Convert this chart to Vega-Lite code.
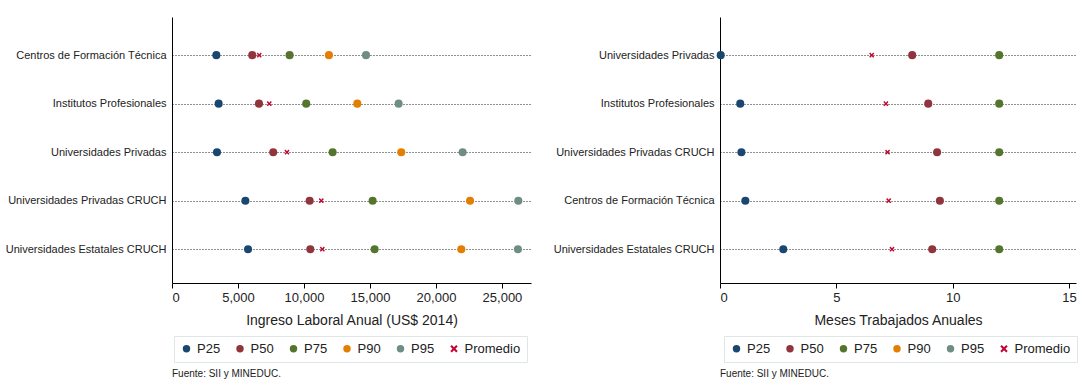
{
  "$schema": "https://vega.github.io/schema/vega-lite/v6.json",
  "background": "white",
  "padding": {"left": 5, "top": 17, "right": 0, "bottom": 0},
  "spacing": 22,
  "config": {
    "font": "Liberation Sans",
    "view": {"stroke": null},
    "axis": {"labelFont": "Liberation Sans", "titleFont": "Liberation Sans", "labelColor": "#222", "titleColor": "#222", "domainColor": "#000", "tickColor": "#000", "titleFontWeight": "normal"},
    "legend": {"labelFont": "Liberation Sans", "labelColor": "#222", "labelFontSize": 13, "direction": "horizontal", "orient": "none", "strokeColor": "#dfe6e6", "padding": 6, "symbolSize": 55, "labelOffset": 4, "columnPadding": 12.5, "title": null}
  },
  "datasets": {
    "ingreso": [
      {"inst": "Centros de Formación Técnica", "stat": "P25", "value": 3360},
      {"inst": "Centros de Formación Técnica", "stat": "P50", "value": 6080},
      {"inst": "Centros de Formación Técnica", "stat": "P75", "value": 8910},
      {"inst": "Centros de Formación Técnica", "stat": "P90", "value": 11890},
      {"inst": "Centros de Formación Técnica", "stat": "P95", "value": 14700},
      {"inst": "Centros de Formación Técnica", "stat": "Promedio", "value": 6610},
      {"inst": "Institutos Profesionales", "stat": "P25", "value": 3535},
      {"inst": "Institutos Profesionales", "stat": "P50", "value": 6590},
      {"inst": "Institutos Profesionales", "stat": "P75", "value": 10170},
      {"inst": "Institutos Profesionales", "stat": "P90", "value": 14040},
      {"inst": "Institutos Profesionales", "stat": "P95", "value": 17170},
      {"inst": "Institutos Profesionales", "stat": "Promedio", "value": 7370},
      {"inst": "Universidades Privadas", "stat": "P25", "value": 3410},
      {"inst": "Universidades Privadas", "stat": "P50", "value": 7670},
      {"inst": "Universidades Privadas", "stat": "P75", "value": 12170},
      {"inst": "Universidades Privadas", "stat": "P90", "value": 17370},
      {"inst": "Universidades Privadas", "stat": "P95", "value": 22020},
      {"inst": "Universidades Privadas", "stat": "Promedio", "value": 8710},
      {"inst": "Universidades Privadas CRUCH", "stat": "P25", "value": 5560},
      {"inst": "Universidades Privadas CRUCH", "stat": "P50", "value": 10430},
      {"inst": "Universidades Privadas CRUCH", "stat": "P75", "value": 15200},
      {"inst": "Universidades Privadas CRUCH", "stat": "P90", "value": 22580},
      {"inst": "Universidades Privadas CRUCH", "stat": "P95", "value": 26240},
      {"inst": "Universidades Privadas CRUCH", "stat": "Promedio", "value": 11310},
      {"inst": "Universidades Estatales CRUCH", "stat": "P25", "value": 5760},
      {"inst": "Universidades Estatales CRUCH", "stat": "P50", "value": 10480},
      {"inst": "Universidades Estatales CRUCH", "stat": "P75", "value": 15350},
      {"inst": "Universidades Estatales CRUCH", "stat": "P90", "value": 21920},
      {"inst": "Universidades Estatales CRUCH", "stat": "P95", "value": 26210},
      {"inst": "Universidades Estatales CRUCH", "stat": "Promedio", "value": 11390}
    ],
    "meses": [
      {"inst": "Universidades Privadas", "stat": "P25", "value": 0.03},
      {"inst": "Universidades Privadas", "stat": "P50", "value": 8.26},
      {"inst": "Universidades Privadas", "stat": "P75", "value": 12},
      {"inst": "Universidades Privadas", "stat": "Promedio", "value": 6.52},
      {"inst": "Institutos Profesionales", "stat": "P25", "value": 0.87},
      {"inst": "Institutos Profesionales", "stat": "P50", "value": 8.95},
      {"inst": "Institutos Profesionales", "stat": "P75", "value": 12},
      {"inst": "Institutos Profesionales", "stat": "Promedio", "value": 7.13},
      {"inst": "Universidades Privadas CRUCH", "stat": "P25", "value": 0.92},
      {"inst": "Universidades Privadas CRUCH", "stat": "P50", "value": 9.33},
      {"inst": "Universidades Privadas CRUCH", "stat": "P75", "value": 12},
      {"inst": "Universidades Privadas CRUCH", "stat": "Promedio", "value": 7.2},
      {"inst": "Centros de Formación Técnica", "stat": "P25", "value": 1.09},
      {"inst": "Centros de Formación Técnica", "stat": "P50", "value": 9.45},
      {"inst": "Centros de Formación Técnica", "stat": "P75", "value": 12},
      {"inst": "Centros de Formación Técnica", "stat": "Promedio", "value": 7.25},
      {"inst": "Universidades Estatales CRUCH", "stat": "P25", "value": 2.72},
      {"inst": "Universidades Estatales CRUCH", "stat": "P50", "value": 9.12},
      {"inst": "Universidades Estatales CRUCH", "stat": "P75", "value": 12},
      {"inst": "Universidades Estatales CRUCH", "stat": "Promedio", "value": 7.39}
    ]
  },
  "resolve": {"scale": {"color": "independent", "shape": "independent"}, "legend": {"color": "independent", "shape": "independent"}},
  "hconcat": [
    {
      "width": 359,
      "height": 266,
      "data": {"name": "ingreso"},
      "title": {"text": "Fuente: SII y MINEDUC.", "orient": "bottom", "anchor": "start", "frame": "group", "fontSize": 10, "fontWeight": "normal", "font": "Liberation Sans", "color": "#222", "offset": 6},
      "encoding": {
        "y": {"field": "inst", "type": "nominal", "sort": ["Centros de Formación Técnica", "Institutos Profesionales", "Universidades Privadas", "Universidades Privadas CRUCH", "Universidades Estatales CRUCH"], "scale": {"type": "point", "padding": 0.742, "align": 0.53}, "axis": {"title": null, "ticks": false, "labelPadding": 6, "labelFontSize": 11, "grid": true, "gridDash": [1, 2], "gridColor": "#222", "gridWidth": 1.1, "minExtent": 166, "maxExtent": 166}},
        "x": {"field": "value", "type": "quantitative", "scale": {"domain": [0, 27200], "nice": false}, "axis": {"values": [0, 5000, 10000, 15000, 20000, 25000], "format": ",d", "title": "Ingreso Laboral Anual (US$ 2014)", "titleFontSize": 14, "labelFontSize": 13, "grid": false, "tickSize": 5, "labelPadding": 3, "titlePadding": 9}},
        "color": {"field": "stat", "type": "nominal", "scale": {"domain": ["P25", "P50", "P75", "P90", "P95", "Promedio"], "range": ["#1a476f", "#90353b", "#55752f", "#e37e00", "#6e8e84", "#c10534"]}, "legend": {"legendX": 2, "legendY": 319}},
        "shape": {"field": "stat", "type": "nominal", "scale": {"domain": ["P25", "P50", "P75", "P90", "P95", "Promedio"], "range": ["circle", "circle", "circle", "circle", "circle", "M-1,-0.6L-0.6,-1L0,-0.4L0.6,-1L1,-0.6L0.4,0L1,0.6L0.6,1L0,0.4L-0.6,1L-1,0.6L-0.4,0Z"]}, "legend": {"legendX": 2, "legendY": 319}}
      },
      "layer": [
        {"transform": [{"filter": "datum.stat !== 'Promedio'"}], "mark": {"type": "point", "filled": true, "size": 65, "opacity": 1}},
        {"transform": [{"filter": "datum.stat === 'Promedio'"}], "mark": {"type": "point", "filled": true, "size": 26, "opacity": 1}}
      ]
    },
    {
      "width": 356,
      "height": 266,
      "data": {"name": "meses"},
      "title": {"text": "Fuente: SII y MINEDUC.", "orient": "bottom", "anchor": "start", "frame": "group", "fontSize": 10, "fontWeight": "normal", "font": "Liberation Sans", "color": "#222", "offset": 6},
      "encoding": {
        "y": {"field": "inst", "type": "nominal", "sort": ["Universidades Privadas", "Institutos Profesionales", "Universidades Privadas CRUCH", "Centros de Formación Técnica", "Universidades Estatales CRUCH"], "scale": {"type": "point", "padding": 0.742, "align": 0.53}, "axis": {"title": null, "ticks": false, "labelPadding": 6, "labelFontSize": 11, "grid": true, "gridDash": [1, 2], "gridColor": "#222", "gridWidth": 1.1, "minExtent": 166, "maxExtent": 166}},
        "x": {"field": "value", "type": "quantitative", "scale": {"domain": [0, 15.3], "nice": false}, "axis": {"values": [0, 5, 10, 15], "format": "d", "title": "Meses Trabajados Anuales", "titleFontSize": 14, "labelFontSize": 13, "grid": false, "tickSize": 5, "labelPadding": 3, "titlePadding": 9}},
        "color": {"field": "stat", "type": "nominal", "scale": {"domain": ["P25", "P50", "P75", "P90", "P95", "Promedio"], "range": ["#1a476f", "#90353b", "#55752f", "#e37e00", "#6e8e84", "#c10534"]}, "legend": {"legendX": 4, "legendY": 319}},
        "shape": {"field": "stat", "type": "nominal", "scale": {"domain": ["P25", "P50", "P75", "P90", "P95", "Promedio"], "range": ["circle", "circle", "circle", "circle", "circle", "M-1,-0.6L-0.6,-1L0,-0.4L0.6,-1L1,-0.6L0.4,0L1,0.6L0.6,1L0,0.4L-0.6,1L-1,0.6L-0.4,0Z"]}, "legend": {"legendX": 4, "legendY": 319}}
      },
      "layer": [
        {"transform": [{"filter": "datum.stat !== 'Promedio'"}], "mark": {"type": "point", "filled": true, "size": 65, "opacity": 1}},
        {"transform": [{"filter": "datum.stat === 'Promedio'"}], "mark": {"type": "point", "filled": true, "size": 26, "opacity": 1}}
      ]
    }
  ]
}
